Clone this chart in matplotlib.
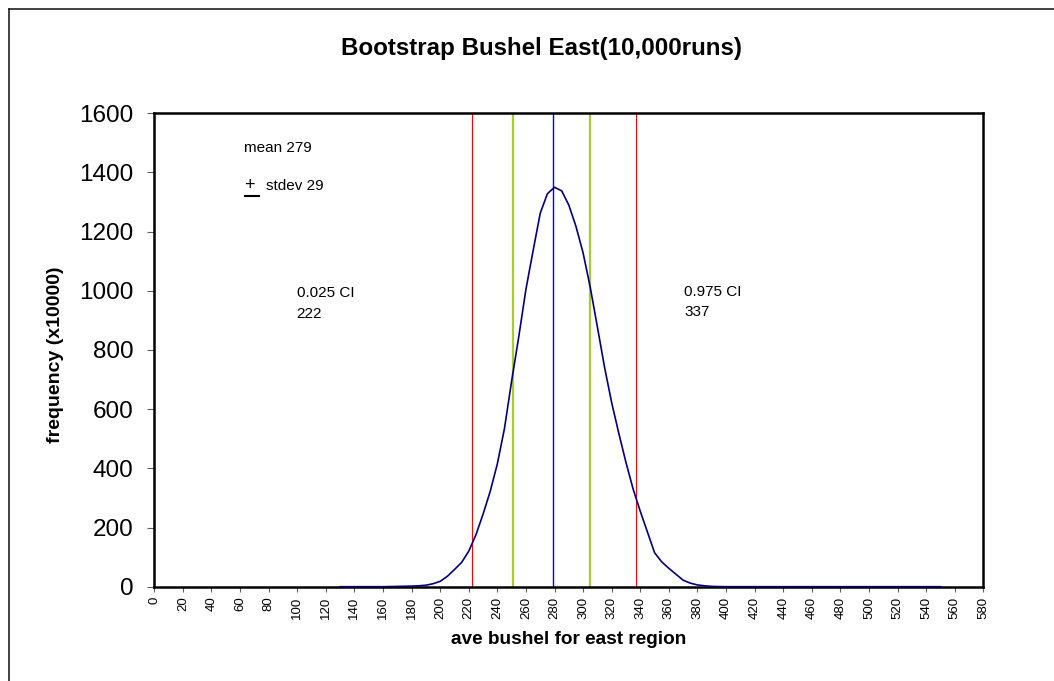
import matplotlib
matplotlib.use("Agg")
import matplotlib.pyplot as plt
from matplotlib.lines import Line2D

plt.rcParams['font.family'] = ['Liberation Sans', 'DejaVu Sans']

# Bootstrap distribution of the average bushel (east region)
bushel = [130, 140, 150, 160, 170, 180, 185, 190, 195, 200, 205, 210, 215, 220,
          225, 230, 235, 240, 245, 250, 255, 260, 265, 270, 275, 280, 285, 290,
          295, 300, 305, 310, 315, 320, 325, 330, 335, 340, 345, 350, 355, 360,
          365, 370, 375, 380, 385, 390, 400, 420, 440, 460, 480, 500, 520, 540, 550]
frequency = [0, 0, 0, 0, 1, 2, 3, 5, 10, 18, 35, 58, 82, 120,
             175, 245, 322, 415, 535, 695, 845, 1005, 1135, 1262, 1328, 1350, 1338, 1290,
             1218, 1128, 1012, 878, 742, 622, 518, 420, 330, 255, 185, 115, 84, 62,
             42, 22, 12, 6, 3, 1, 0, 0, 0, 0, 0, 0, 0, 0, 0]

mean_value = 279
stdev_value = 29
stdev_bounds = [251, 305]
ci_low = 222
ci_high = 337

x_ticks = list(range(0, 581, 20))
y_ticks = [0, 200, 400, 600, 800, 1000, 1200, 1400, 1600]

W, H = 1054, 681
fig = plt.figure(figsize=(W / 100, H / 100), dpi=100)

def fx(px):
    return px / W

def fy(py):
    return 1 - py / H

ax = fig.add_axes([fx(154.3), fy(586.7), fx(983.3) - fx(154.3), fy(113.3) - fy(586.7)])

ax.plot(bushel, frequency, color='#000080', lw=1.2, zorder=3)

for v in (ci_low, ci_high):
    ax.axvline(v, color='#ff0000', lw=0.8, zorder=2)
for v in stdev_bounds:
    ax.axvline(v, color='#a8cc2c', lw=1.6, zorder=2)
ax.axvline(mean_value, color='#0000ff', lw=1.0, zorder=2)

ax.set_xlim(0, 580)
ax.set_ylim(0, 1600)
ax.set_xticks(x_ticks)
ax.set_xticklabels([str(t) for t in x_ticks], rotation=90, fontsize=9.5)
ax.set_yticks(y_ticks)
ax.set_yticklabels([str(t) for t in y_ticks], fontsize=17.5)
ax.tick_params(axis='y', length=5, width=0.8, color='#606060', pad=10)
ax.tick_params(axis='x', length=3.6, width=0.8, color='#606060', pad=3.5)

for s in ax.spines.values():
    s.set_linewidth(1.8)
    s.set_color('black')

# titles and axis labels
fig.text(fx(541.5), fy(55), 'Bootstrap Bushel East(10,000runs)', fontsize=17.4,
         fontweight='bold', ha='center', va='baseline')
fig.text(fx(569), fy(643.5), 'ave bushel for east region', fontsize=13.7,
         fontweight='bold', ha='center', va='baseline')
fig.text(fx(56), fy(355), 'frequency (x10000)', fontsize=14, fontweight='bold',
         rotation=90, ha='center', va='center')

# summary annotations
fig.text(fx(244), fy(148), f'mean {mean_value}', fontsize=11, ha='left', va='center')
fig.text(fx(244.5), fy(185), '+', fontsize=13, ha='left', va='center')
fig.add_artist(Line2D([fx(245), fx(259)], [fy(195.7), fy(195.7)], color='black', lw=1.5))
fig.text(fx(265.7), fy(186), f'stdev {stdev_value}', fontsize=11, ha='left', va='center')

fig.text(fx(296.7), fy(293), '0.025 CI', fontsize=11, ha='left', va='center')
fig.text(fx(296.7), fy(314), f'{ci_low}', fontsize=11, ha='left', va='center')
fig.text(fx(684), fy(292), '0.975 CI', fontsize=11, ha='left', va='center')
fig.text(fx(684), fy(312), f'{ci_high}', fontsize=11, ha='left', va='center')

# chart frame
fig.add_artist(Line2D([fx(8.5), fx(8.5)], [fy(8.5), 0], color='#202020', lw=1.2))
fig.add_artist(Line2D([fx(8.5), 1], [fy(8.5), fy(8.5)], color='#202020', lw=1.2))

fig.savefig('out.png', dpi=100)
